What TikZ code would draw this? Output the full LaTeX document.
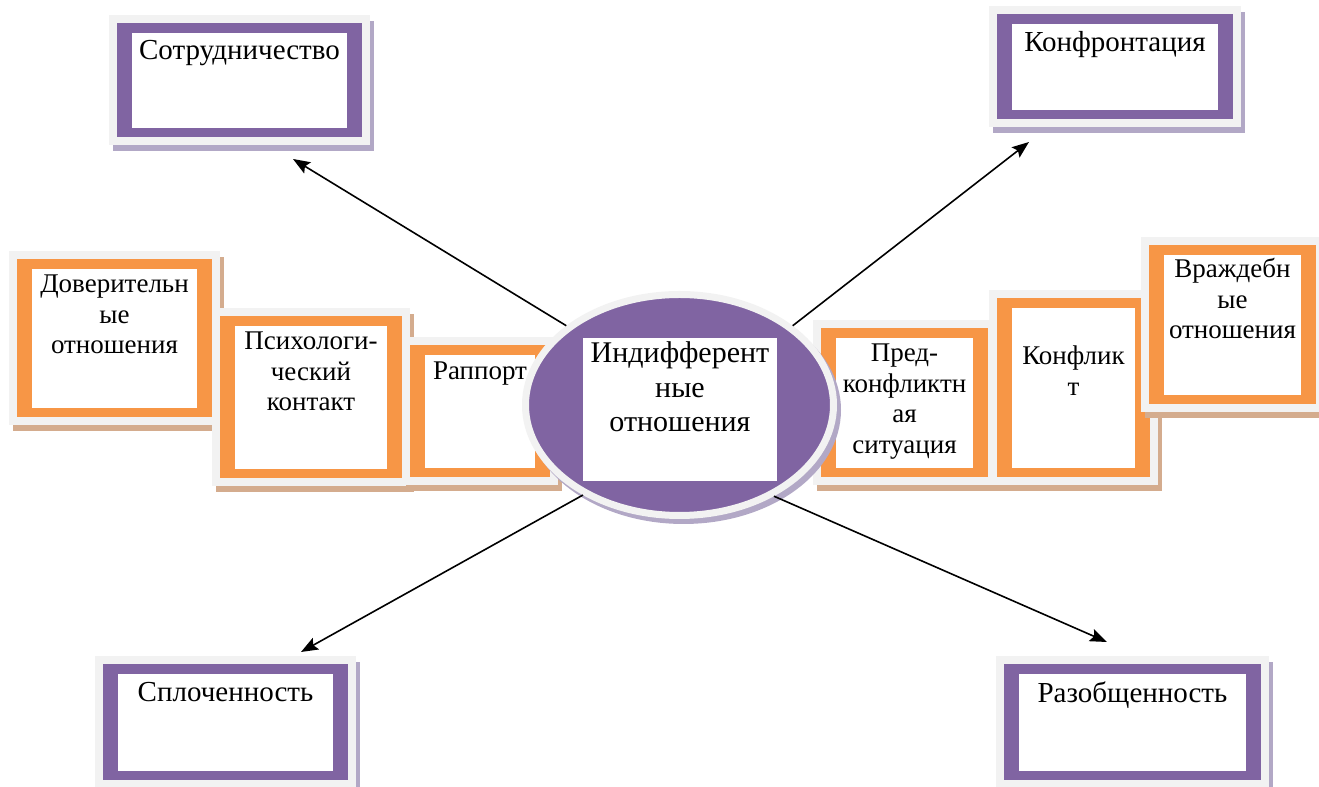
\documentclass[tikz,border=0pt]{standalone}
\usepackage{fontspec}
\setmainfont{Liberation Serif}
\usetikzlibrary{arrows.meta, shapes.geometric, backgrounds}

\definecolor{kpurple}{HTML}{8064A2}
\definecolor{korange}{HTML}{F79646}
\definecolor{kframe}{HTML}{F2F2F2}
\definecolor{kshadeo}{HTML}{D4AC8E}
\definecolor{kshadep}{HTML}{B2A8C6}

\begin{document}
\begin{tikzpicture}[x=0.5pt, y=0.5pt, >={Stealth[length=8.5pt, width=6.5pt, inset=1.5pt]},
    wbox/.style={fill=white, inner sep=0pt, outer sep=0pt, align=center},
    bigtxt/.style={font=\fontsize{14.5}{17}\selectfont},
    smalltxt/.style={font=\fontsize{13.5}{15.25}\selectfont},
    link/.style={->, line width=0.8pt}]
    \useasboundingbox (0,0) rectangle (1319,787);

    % purple boxes
    \node[wbox, bigtxt, text width=107.5pt, text height=13.5pt, text depth=34pt] (coop) at (239.5,706.5) {Сотрудничество};
    \node[wbox, bigtxt, text width=103pt, text height=14pt, text depth=29pt] (confr) at (1115,720) {Конфронтация};
    \node[wbox, bigtxt, text width=107.5pt, text height=14pt, text depth=34.5pt] (splo) at (225.5,64.5) {Сплоченность};
    \node[wbox, bigtxt, text width=113.5pt, text height=14.5pt, text depth=34pt] (razo) at (1132.5,64.5) {Разобщенность};

    % orange boxes
    \node[wbox, smalltxt, text width=82.5pt, text height=12pt, text depth=57.5pt] (dov) at (114.5,448.5) {Доверительн\\ые\\отношения};
    \node[wbox, smalltxt, text width=76pt, text height=12pt, text depth=59.5pt] (psych) at (311,389.5) {Психологи-\\ческий\\контакт};
    \node[wbox, smalltxt, text width=55pt, text height=12.5pt, text depth=44pt] (rapp) at (480,375.5) {Раппорт};
    \node[wbox, smalltxt, text width=68.5pt, text height=12pt, text depth=53pt] (pred) at (904.5,384) {Пред-\\конфликтн\\ая\\ситуация};
    \node[wbox, smalltxt, text width=61.5pt, text height=28.5pt, text depth=51.5pt] (konf) at (1073.5,399) {Конфлик\\т};
    \node[wbox, smalltxt, text width=68.5pt, text height=11.5pt, text depth=58.5pt] (vrazh) at (1232.5,462) {Враждебн\\ые\\отношения};

    % frames and shadows
    \begin{scope}[on background layer]
        \foreach \n/\c/\s in {coop/kpurple/kshadep, confr/kpurple/kshadep, splo/kpurple/kshadep, razo/kpurple/kshadep,
                             dov/korange/kshadeo, psych/korange/kshadeo, rapp/korange/kshadeo,
                             pred/korange/kshadeo, konf/korange/kshadeo, vrazh/korange/kshadeo} {
            \fill[\s] ([shift={(-19,-23.5)}]\n.south west) rectangle ([shift={(27,11.5)}]\n.north east);
            \fill[kframe] ([shift={(-23,-17.5)}]\n.south west) rectangle ([shift={(23,17.5)}]\n.north east);
            \fill[\c] ([shift={(-15,-9.5)}]\n.south west) rectangle ([shift={(15,9.5)}]\n.north east);
        }
    \end{scope}

    % centre
    \node[ellipse, draw=kframe, line width=3.5pt, fill=kpurple, minimum width=154pt, minimum height=110.5pt, inner sep=0pt,
        preaction={draw=kshadep, fill=kshadep, line width=3.5pt, transform canvas={shift={(2pt,-2.5pt)}}}] (indiff) at (679.5,382) {};
    \node[wbox, font=\fontsize{15}{17.25}\selectfont, text width=97pt, text height=12.5pt, text depth=59pt] (indifftxt) at (680,377.5) {Индифферент\\ные\\отношения};

    \coordinate (coopTip) at (293,628);
    \coordinate (confrTip) at (1029,645);
    \coordinate (sploTip) at (301,135);
    \coordinate (razoTip) at (1107,145);
    \draw[link] (indiff.145) -- (coopTip);
    \draw[link] (indiff.35) -- (confrTip);
    \draw[link] (indiff.223) -- (sploTip);
    \draw[link] (indiff.316) -- (razoTip);
\end{tikzpicture}
\end{document}
